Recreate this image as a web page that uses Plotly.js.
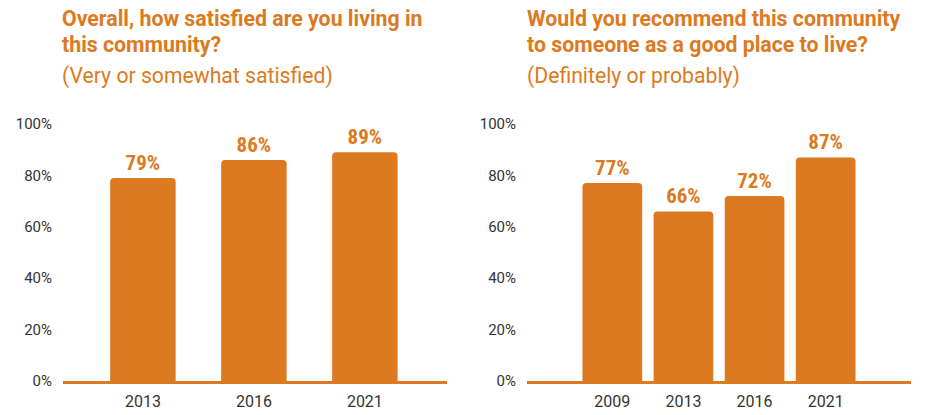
<!DOCTYPE html>
<html>
<head>
<meta charset="utf-8">
<script src="https://cdn.plot.ly/plotly-3.0.1.min.js"></script>
<style>html,body{margin:0;padding:0;background:#fff;}#chart{width:947px;height:415px;}</style>
</head>
<body>
<div id="chart"></div>
<script>
// Data
const satisfiedYears = ['2013', '2016', '2021'];
const satisfiedValues = [79, 86, 89];
const recommendYears = ['2009', '2013', '2016', '2021'];
const recommendValues = [77, 66, 72, 87];
const yTickValues = [0, 20, 40, 60, 80, 100];
const yTickLabels = ['0%', '20%', '40%', '60%', '80%', '100%'];
const title1Lines = ['Overall, how satisfied are you living in', 'this community?'];
const subtitle1 = '(Very or somewhat satisfied)';
const title2Lines = ['Would you recommend this community', 'to someone as a good place to live?'];
const subtitle2 = '(Definitely or probably)';

const ORANGE = '#DC7A22';
const labelFont = {family: '"Liberation Sans Narrow", "Roboto Condensed", Roboto, sans-serif', size: 21, color: ORANGE, weight: 700};

const traces = [
  {
    type: 'bar', x: satisfiedYears, y: satisfiedValues, xaxis: 'x', yaxis: 'y',
    marker: {color: ORANGE, cornerradius: 4},
    text: satisfiedValues.map(v => v + '%'), textposition: 'outside', textfont: labelFont,
    cliponaxis: false, hoverinfo: 'skip', width: 0.59
  },
  {
    type: 'bar', x: recommendYears, y: recommendValues, xaxis: 'x2', yaxis: 'y2',
    marker: {color: ORANGE, cornerradius: 4},
    text: recommendValues.map(v => v + '%'), textposition: 'outside', textfont: labelFont,
    cliponaxis: false, hoverinfo: 'skip', width: 0.84
  }
];

const W = 947, H = 415;
const plotTop = 124, plotBottom = 381;
const ph = plotBottom - plotTop;
function py(pixel) { return (plotBottom - pixel) / ph; }

const yaxisBase = {
  range: [0, 100], tickmode: 'array', tickvals: yTickValues, ticktext: yTickLabels,
  showgrid: false, zeroline: false, showline: false,
  ticks: 'outside', ticklen: 7, tickcolor: 'rgba(0,0,0,0)',
  tickfont: {family: 'Roboto, sans-serif', size: 15, color: '#333333'},
  fixedrange: true
};
const xaxisBase = {
  showgrid: false, zeroline: false, showline: true, linecolor: ORANGE, linewidth: 3,
  ticks: 'outside', ticklen: 4, tickcolor: 'rgba(0,0,0,0)',
  tickfont: {family: 'Roboto, sans-serif', size: 16, color: '#333333'},
  type: 'category', fixedrange: true
};

const titleFont = {family: 'Roboto, sans-serif', size: 21.3, color: ORANGE, weight: 700};
const subFont = {family: 'Roboto, sans-serif', size: 21.2, color: ORANGE};

function ann(text, xpx, ypx, font) {
  return {text: text, xref: 'paper', yref: 'paper', x: xpx / W, y: py(ypx), xanchor: 'left', yanchor: 'middle', align: 'left', showarrow: false, font: font};
}

const layout = {
  width: W, height: H,
  margin: {l: 0, r: 0, t: plotTop, b: H - plotBottom},
  paper_bgcolor: '#ffffff', plot_bgcolor: '#ffffff',
  showlegend: false,
  xaxis: Object.assign({}, xaxisBase, {domain: [63 / W, 447 / W], anchor: 'y', range: [-0.72, 2.74]}),
  yaxis: Object.assign({}, yaxisBase, {anchor: 'x'}),
  xaxis2: Object.assign({}, xaxisBase, {domain: [527 / W, 911 / W], anchor: 'y2', range: [-1.2, 4.2]}),
  yaxis2: Object.assign({}, yaxisBase, {anchor: 'x2'}),
  annotations: [
    ann(title1Lines[0], 60, 19, titleFont),
    ann(title1Lines[1], 60, 44, titleFont),
    ann(subtitle1, 60, 76, subFont),
    ann(title2Lines[0], 525, 19, titleFont),
    ann(title2Lines[1], 525, 44, titleFont),
    ann(subtitle2, 525, 76, subFont)
  ]
};

Plotly.newPlot('chart', traces, layout, {displayModeBar: false, staticPlot: true});
</script>
</body>
</html>
